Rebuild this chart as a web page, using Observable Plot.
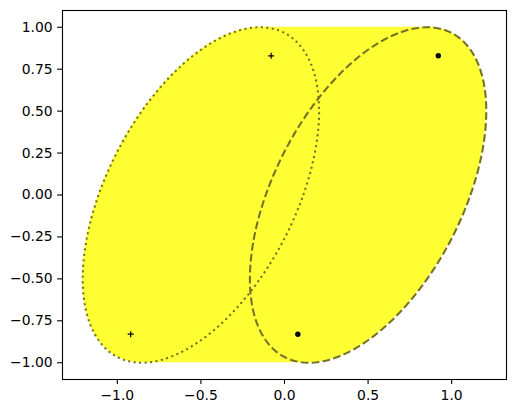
<!DOCTYPE html>
<html><head><meta charset="utf-8">
<script src="https://cdn.jsdelivr.net/npm/d3@7"></script>
<script src="https://cdn.jsdelivr.net/npm/@observablehq/plot@0.6"></script>
<style>
html,body{margin:0;padding:0;background:#fff;}
#chart svg{display:block;}
</style>
</head><body><div id="chart"></div>
<script>
// Two tilted ellipses: centre, horizontal half-extent, vertical half-extent,
// and phase (deg) that sets how far the top point is shifted to the right of the centre.
const ellipseNames = ["dotted", "dashed"];
const ellipseCx = [-0.5, 0.5];
const ellipseCy = [0, 0];
const ellipseRx = [0.707, 0.707];
const ellipseRy = [1.0, 1.0];
const ellipsePhase = [30, 30];
const ellipseDash = ["2.1,3.4", "7.7,3.3"];

// Markers
const plusX = [-0.92, -0.08];
const plusY = [-0.83, 0.83];
const dotX = [0.08, 0.92];
const dotY = [-0.83, 0.83];

// Axes
const xDomain = [-1.328, 1.328];
const yDomain = [-1.1, 1.1];
const xTicks = [-1.0, -0.5, 0.0, 0.5, 1.0];
const yTicks = [-1.0, -0.75, -0.5, -0.25, 0.0, 0.25, 0.5, 0.75, 1.0];

// Build outlines of each ellipse (parametric outline of the shapes above)
const N = 240;
const outlines = ellipseNames.map((name, i) => {
  const ph = ellipsePhase[i] * Math.PI / 180;
  return d3.range(N + 1).map(k => {
    const t = 2 * Math.PI * k / N;
    return {name, x: ellipseCx[i] + ellipseRx[i] * Math.cos(t - ph), y: ellipseCy[i] + ellipseRy[i] * Math.sin(t)};
  });
});

// Fill between the left side of the left ellipse and the right side of the right ellipse
const phL = ellipsePhase[0] * Math.PI / 180, phR = ellipsePhase[1] * Math.PI / 180;
const band = d3.range(N + 1).map(k => {
  const u = -Math.PI / 2 + Math.PI * k / N;
  return {
    y: Math.sin(u),
    x1: ellipseCx[0] + ellipseRx[0] * Math.cos(Math.PI - u - phL),
    x2: ellipseCx[1] + ellipseRx[1] * Math.cos(u - phR)
  };
});

const markersPlus = plusX.map((x, i) => ({x, y: plusY[i]}));
const markersDot = dotX.map((x, i) => ({x, y: dotY[i]}));
const minus = s => s.replace("-", "\u2212");

const chart = Plot.plot({
  width: 516,
  height: 413,
  marginLeft: 62,
  marginRight: 10,
  marginTop: 10,
  marginBottom: 34,
  style: {fontFamily: "DejaVu Sans", fontSize: "13.9px", background: "#fff", color: "#000"},
  x: {domain: xDomain, label: null},
  y: {domain: yDomain, label: null},
  marks: [
    Plot.areaX(band, {y: "y", x1: "x1", x2: "x2", fill: "yellow", fillOpacity: 0.8}),
    Plot.line(outlines[0], {x: "x", y: "y", stroke: "#737322", strokeWidth: 2.08, strokeDasharray: ellipseDash[0], strokeLinecap: "butt"}),
    Plot.line(outlines[1], {x: "x", y: "y", stroke: "#737322", strokeWidth: 2.08, strokeDasharray: ellipseDash[1], strokeLinecap: "butt"}),
    Plot.dot(markersPlus, {x: "x", y: "y", symbol: "plus", r: 2.1, stroke: "#000", strokeWidth: 1.2}),
    Plot.dot(markersDot, {x: "x", y: "y", r: 2.7, fill: "#000", stroke: null}),
    Plot.frame({stroke: "#000", strokeWidth: 1.1}),
    Plot.axisX({ticks: xTicks, tickSize: 4.9, tickPadding: 6, strokeWidth: 1.1, tickFormat: d => minus(d.toFixed(1))}),
    Plot.axisY({ticks: yTicks, tickSize: 4.9, tickPadding: 4.9, strokeWidth: 1.1, tickFormat: d => minus(d.toFixed(2))})
  ]
});
document.getElementById("chart").appendChild(chart);
</script>
</body></html>
